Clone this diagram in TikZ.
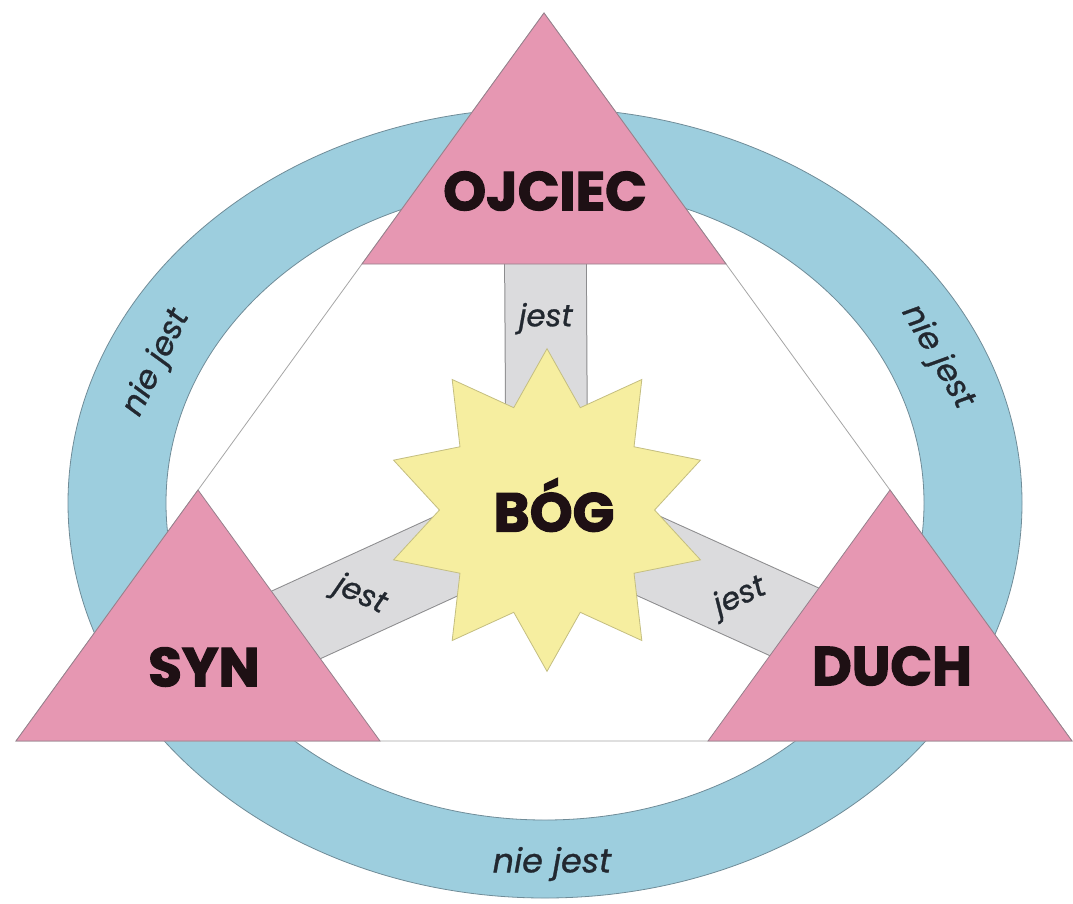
\documentclass[tikz,border=0pt]{standalone}
\usepackage{fontspec}
\setmainfont{Poppins}[BoldFeatures={FakeBold=2.2}, ItalicFeatures={FakeBold=0.9}]
\usepackage{tikz}
\usetikzlibrary{shapes.geometric}

\definecolor{ringblue}{RGB}{157,206,222}
\definecolor{ringline}{RGB}{112,140,152}
\definecolor{trpink}{RGB}{230,151,178}
\definecolor{trline}{RGB}{150,128,140}
\definecolor{barfill}{RGB}{219,219,221}
\definecolor{barline}{RGB}{140,140,142}
\definecolor{starfill}{RGB}{246,238,160}
\definecolor{starline}{RGB}{196,190,128}
\definecolor{txtdark}{RGB}{30,16,20}
\definecolor{txtgray}{RGB}{34,40,48}

\begin{document}
\begin{tikzpicture}[x=0.75pt,y=0.75pt,yscale=-1,xscale=1,
  persona/.style={font=\fontsize{41}{41}\selectfont\bfseries, text=txtdark, inner sep=0.75pt},
  relat/.style={font=\fontsize{23}{23}\selectfont\itshape, text=txtgray, inner sep=0.75pt},
  corner/.style={fill=trpink, draw=trline, line width=0.6pt},
  ]
\useasboundingbox (0,0) rectangle (1073,903);

%Shape: Ring
\draw [fill=ringblue, draw=ringline, line width=0.6pt, even odd rule] (545,503) ellipse [x radius=477, y radius=395] (545,503) ellipse [x radius=379, y radius=317] ;
%Shape: Big Triangle
\draw [fill=white, draw=gray!70, line width=0.6pt] (544,13) -- (16,741) -- (1072,741) -- cycle ;

% centres
\coordinate (god) at (547,510);
\coordinate (ojc) at (545,191);
\coordinate (syn) at (204,667);
\coordinate (duch) at (892,666);

%Bars
\foreach \p in {ojc,syn,duch}{
  \draw [barline, line width=62pt] (god) -- (\p) ;
  \draw [barfill, line width=60.5pt] (god) -- (\p) ;
}
\path (ojc) -- node [relat, pos=0.4] (jo) {jest} (god) ;
\path (god) -- node [relat, sloped, pos=0.545] (js) {jest} (syn) ;
\path (god) -- node [relat, sloped, pos=0.56] (jd) {jest} (duch) ;

%Shape: Triangles
\draw [corner] (544,13) -- (362,264) -- (726,264) -- cycle ;
\draw [corner] (198,490) -- (16,741) -- (380,741) -- cycle ;
\draw [corner] (890,490) -- (708,741) -- (1072,741) -- cycle ;

%Shape: Star
\node [star, star points=10, star point ratio=1.5, minimum size=242pt, inner sep=0pt, fill=starfill, draw=starline, line width=0.6pt] (bog) at (god) {} ;

% Text Node
\node [persona] (bogtxt) at (554,505) {BÓG} ;
% Text Node
\node [persona] (ojciec) at (ojc) {OJCIEC} ;
% Text Node
\node [persona] (syntxt) at (syn) {SYN} ;
% Text Node
\node [persona] (duchtxt) at (duch) {DUCH} ;
% Text Node
\node [relat, font=\fontsize{24}{24}\selectfont\itshape, rotate=64] (niel) at (157,363) {nie jest} ;
% Text Node
\node [relat, font=\fontsize{24}{24}\selectfont\itshape, rotate=-60] (nier) at (937,357) {nie jest} ;
% Text Node
\node [relat, font=\fontsize{25}{25}\selectfont\itshape] (nieb) at (552,864) {nie jest} ;

\end{tikzpicture}
\end{document}
